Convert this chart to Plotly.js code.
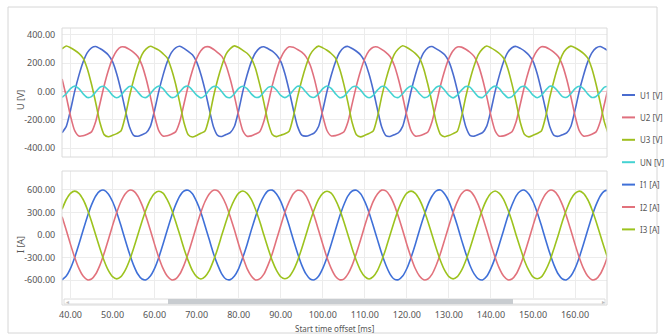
<!DOCTYPE html>
<html><head><meta charset="utf-8">
<script src="https://cdn.plot.ly/plotly-3.0.1.min.js"></script>
<style>html,body{margin:0;padding:0;background:#fff}#chart{width:665px;height:335px}</style>
</head><body><div id="chart"></div>
<script>
// time axis [ms]
const timeMs = [38,39,40,41,42,43,44,45,46,47,48,49,50,51,52,53,54,55,56,57,58,59,60,61,62,63,64,65,66,67,68,69,70,71,72,73,74,75,76,77,78,79,80,81,82,83,84,85,86,87,88,89,90,91,92,93,94,95,96,97,98,99,100,101,102,103,104,105,106,107,108,109,110,111,112,113,114,115,116,117,118,119,120,121,122,123,124,125,126,127,128,129,130,131,132,133,134,135,136,137,138,139,140,141,142,143,144,145,146,147,148,149,150,151,152,153,154,155,156,157,158,159,160,161,162,163,164,165,166,167,168];

const seriesNames = ['U1 [V]','U2 [V]','U3 [V]','UN [V]','I1 [A]','I2 [A]','I3 [A]'];

const U1 = [-292,-247,-133,0,113,207,273,307,
316,302,283,257,210,123,7,-127,-248,-310,-317,-306,-292,-247,-133,0,113,207,273,307,
318,303,282,258,208,121,9,-125,-249,-311,-318,-305,-291,-246,-135,2,115,208,272,306,
315,301,284,256,211,124,6,-128,-247,-309,-316,-307,-293,-248,-132,-1,112,206,274,308,
317,302,283,257,209,122,8,-126,-250,-312,-318,-306,-292,-247,-134,1,114,207,273,307,
316,300,282,258,210,123,7,-127,-248,-310,-316,-305,-291,-245,-133,0,113,209,275,308,
317,303,284,256,211,124,5,-128,-249,-311,-317,-306,-293,-248,-132,1,112,206,272,306,
316,302,283];

const U2 = [87,-37,-173,-277,-315,-313,-302,-286,-213,-87,40,147,233,287,313,
312,296,275,246,185,87,-37,-173,-277,-315,-313,-302,-286,-213,-87,40,147,233,287,313,
314,297,274,247,183,85,-35,-171,-278,-316,-314,-301,-285,-211,-89,42,149,234,288,314,
311,295,276,245,186,88,-38,-174,-276,-314,-312,-303,-287,-214,-86,39,146,232,286,312,
313,296,275,246,184,86,-36,-172,-277,-315,-313,-302,-286,-212,-88,41,148,233,287,313,
312,297,276,247,185,87,-37,-173,-278,-316,-314,-302,-285,-213,-87,40,147,234,288,314,
312,296,275,246,185,87,-37,-173,-277,-315,-313,-302,-286,-213,-87,40];

const U3 = [300,
320,308,290,268,235,160,50,-80,-220,-305,-320,-310,-298,-280,-180,-40,80,180,260,300,
318,306,291,266,236,158,52,-82,-221,-306,-322,-311,-296,-279,-182,-38,82,182,262,302,
321,309,289,269,233,161,49,-79,-219,-304,-319,-309,-299,-281,-178,-41,79,179,259,299,
319,307,290,267,236,159,51,-81,-222,-306,-321,-310,-297,-280,-181,-39,81,181,261,301,
322,310,291,268,234,160,48,-80,-220,-304,-320,-312,-298,-281,-179,-40,80,180,259,300,
320,307,289,267,235,162,51,-79,-221,-305,-321,-310,-297,-279,-180,-41,79,181,260,301,
319,308,290,268,236,161,50,-81,-219,-306];

const UN = [-43,-17,20,37,20,-17,-43,-37,-4,29,
35,9,-28,-45,-28,9,35,29,-4,-37,-43,-17,20,37,20,-17,-43,-37,-4,29,
36,8,-27,-46,-29,10,34,30,-3,-38,-44,-16,21,36,19,-18,-42,-38,-5,28,
34,10,-29,-44,-27,8,36,28,-5,-36,-42,-18,19,38,21,-16,-44,-36,-3,30,
35,9,-28,-45,-28,9,35,29,-4,-37,-43,-17,20,37,20,-17,-43,-37,-4,29,
37,8,-28,-46,-27,9,34,30,-4,-38,-43,-16,21,37,19,-17,-44,-37,-5,29,
35,10,-27,-45,-29,8,36,29,-3,-37,-42,-17,20,36,20,-18,-43,-36,-4,30,
35];

const I1 = [-597,-548,-446,-300,-125,63,244,401,520,587,
597,548,446,300,125,-63,-244,-401,-520,-587,-597,-548,-446,-300,-125,63,244,401,520,587,
595,550,444,302,123,-61,-246,-399,-522,-589,-595,-546,-448,-298,-127,65,242,403,518,589,
598,547,447,299,126,-64,-243,-402,-519,-586,-598,-549,-445,-301,-124,62,245,400,521,586,
596,549,445,301,124,-62,-245,-400,-521,-588,-596,-547,-447,-299,-126,64,243,402,519,588,
599,546,448,298,127,-65,-242,-403,-518,-585,-599,-550,-444,-302,-123,61,246,399,522,585,
597,548,446,300,125,-63,-244,-401,-520,-587,-597,-548,-446,-300,-125,63,244,401,520,587,
596];

const I2 = [244,63,-125,-300,-446,-548,-597,-587,-520,-401,-244,-63,125,300,446,548,597,
587,520,401,244,63,-125,-300,-446,-548,-597,-587,-520,-401,-244,-63,125,300,446,548,597,
589,518,403,242,65,-127,-298,-448,-546,-599,-585,-522,-399,-246,-61,123,302,444,550,595,
586,521,400,245,62,-124,-301,-445,-549,-596,-588,-519,-402,-243,-64,126,299,447,547,598,
588,519,402,243,64,-126,-299,-447,-547,-598,-586,-521,-400,-245,-62,124,301,445,549,596,
587,520,401,244,63,-125,-300,-446,-548,-597,-587,-520,-401,-244,-63,125,300,446,548,597,
587,520,401,244,63,-125,-300,-446,-548,-597,-587,-520,-401,-244];

const I3 = [344,473,556,
585,556,473,344,181,0,-181,-344,-473,-556,-585,-556,-473,-344,-181,0,181,344,473,556,
583,558,471,346,179,2,-183,-342,-475,-554,-587,-554,-475,-342,-183,2,179,346,471,558,
586,555,474,343,182,-1,-180,-345,-472,-557,-584,-557,-472,-345,-180,-1,182,343,474,555,
584,557,472,345,180,1,-182,-343,-474,-555,-586,-555,-474,-343,-182,1,180,345,472,557,
585,556,473,344,181,0,-181,-344,-473,-556,-585,-556,-473,-344,-181,0,181,344,473,556,
587,554,475,342,183,-2,-179,-346,-471,-558,-583,-558,-471,-346,-179,-2,183,342,475,554,
585,556,473,344,181,0,-181,-344];

const timeTicks = [40,50,60,70,80,90,100,110,120,130,140,150,160];
const voltageTicks = [-400,-200,0,200,400];
const currentTicks = [-600,-300,0,300,600];

// ---- styling / layout ----
const colors = ['#4a6ccf','#e0707e','#9fbf1f','#45d2d2','#3f70d8','#e2727c','#9cc31e'];
const seriesData = [U1,U2,U3,UN,I1,I2,I3];

const traces = seriesData.map((vals,i)=>({
  x: timeMs, y: vals, type:'scatter', mode:'lines', name: seriesNames[i],
  xaxis:'x', yaxis: i<4 ? 'y' : 'y2',
  line:{color:colors[i], width:1.6, shape:'spline', smoothing:0.6},
  showlegend:false, hoverinfo:'skip'
}));

const PL=62, PR=607, PT=28, PB=305, PW=PR-PL, PH=PB-PT;
const px = x => (x-PL)/PW;
const py = y => (PB-y)/PH;
const fmt = v => v.toFixed(2);
const FONT = '"Noto Sans", "Open Sans", sans-serif';

const shapes = [
  {type:'rect', xref:'paper', yref:'paper', x0:px(8), x1:px(657), y0:py(333), y1:py(7), line:{color:'#d6d6d6', width:1}, layer:'below'},
  {type:'rect', xref:'paper', yref:'paper', x0:0, x1:1, y0:py(157), y1:1, line:{color:'#dadada', width:1}, layer:'above'},
  {type:'rect', xref:'paper', yref:'paper', x0:0, x1:1, y0:0, y1:py(171), line:{color:'#dadada', width:1}, layer:'above'},
  {type:'rect', xref:'paper', yref:'paper', x0:px(64), x1:px(605), y0:py(304), y1:py(299), fillcolor:'#ffffff', line:{color:'#dcdcdc', width:1}, layer:'above'},
  {type:'rect', xref:'paper', yref:'paper', x0:px(168), x1:px(513), y0:py(304), y1:py(299), fillcolor:'#c8ccd0', line:{width:0}, layer:'above'}
];
const ann = (x,y,text,opts) => Object.assign({xref:'paper', yref:'paper', x:x, y:y, text:text, showarrow:false, xanchor:'center', yanchor:'middle', borderpad:0, font:{family:FONT, size:9, color:'#555'}}, opts||{});
const annotations = [
  ann(px(20), py(100), 'U [V]', {textangle:-90}),
  ann(px(20), py(245), 'I [A]', {textangle:-90}),
  ann(0.5, py(328), 'Start time offset [ms]', {font:{family:FONT, size:8, color:'#555'}}),
  ann(px(67), py(301.5), '◂', {font:{size:6, color:'#bbb'}}),
  ann(px(603), py(301.5), '▸', {font:{size:6, color:'#bbb'}})
];
seriesNames.forEach((nm,i)=>{
  const yy = py(95 + 22.4*i);
  shapes.push({type:'line', xref:'paper', yref:'paper', x0:px(622), x1:px(635), y0:yy, y1:yy, line:{color:colors[i], width:2}});
  annotations.push(ann(px(639), yy, nm, {xanchor:'left', font:{family:FONT, size:8, color:'#555'}}));
});
seriesData.forEach((s,i)=>{ if(s.length!==timeMs.length) annotations.push(ann(0.5, 0.5+0.05*i, 'LEN '+seriesNames[i]+' '+s.length, {font:{size:14,color:'red'}})); });

const gridC = '#ececec';
const tf = {family:FONT, size:9, color:'#555'};
const layout = {
  width:665, height:335,
  margin:{l:PL, r:665-PR, t:PT, b:335-PB},
  paper_bgcolor:'#ffffff', plot_bgcolor:'#ffffff',
  font:{family:FONT, size:9, color:'#555'},
  showlegend:false,
  xaxis:{anchor:'y2', range:[37.98,167.6], tickvals:timeTicks, ticktext:timeTicks.map(fmt),
    showgrid:true, gridcolor:gridC, zeroline:false, showline:false,
    ticks:'outside', ticklen:8, tickcolor:'rgba(0,0,0,0)', tickfont:tf},
  yaxis:{domain:[py(157),1], range:[-463,447], tickvals:voltageTicks, ticktext:voltageTicks.map(fmt),
    showgrid:true, gridcolor:gridC, zeroline:true, zerolinecolor:'#f2c3cb', zerolinewidth:1, showline:false,
    ticks:'outside', ticklen:4, tickcolor:'rgba(0,0,0,0)', tickfont:tf},
  yaxis2:{domain:[py(298),py(171)], range:[-840,853], tickvals:currentTicks, ticktext:currentTicks.map(fmt),
    showgrid:true, gridcolor:gridC, zeroline:false, showline:false,
    ticks:'outside', ticklen:4, tickcolor:'rgba(0,0,0,0)', tickfont:tf},
  shapes:shapes, annotations:annotations
};
Plotly.newPlot('chart', traces, layout, {displayModeBar:false, staticPlot:true});
</script></body></html>
